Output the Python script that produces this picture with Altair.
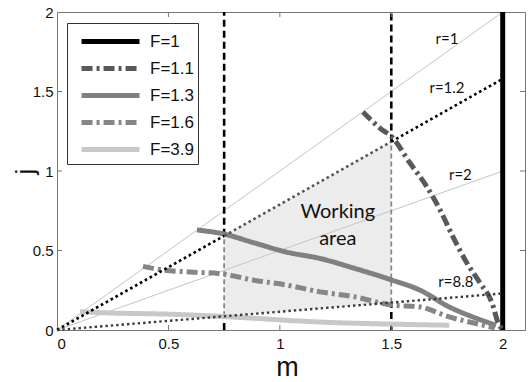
import altair as alt
import pandas as pd

# ---- data ----
series_names = ["F=1", "F=1.1", "F=1.3", "F=1.6", "F=3.9"]
series_colors = ["#000000", "#595959", "#808080", "#868686", "#c8c8c8"]
series_dash = [[1, 0], [11, 4, 3, 4], [1, 0], [11, 4, 3, 4], [1, 0]]

f1_m = [2.0, 2.0]
f1_j = [0.0, 2.0]
f11_m = [1.373, 1.449, 1.503, 1.584, 1.66, 1.719, 1.777, 1.84, 1.898, 1.952, 1.98, 2.0]
f11_j = [1.371, 1.27, 1.214, 1.05, 0.90, 0.755, 0.585, 0.42, 0.296, 0.17, 0.044, 0.0]
f13_m = [0.628, 0.745, 0.88, 1.03, 1.18, 1.33, 1.503, 1.63, 1.76, 1.87, 1.97]
f13_j = [0.629, 0.605, 0.55, 0.49, 0.45, 0.39, 0.314, 0.25, 0.145, 0.08, 0.03]
f16_m = [0.386, 0.476, 0.597, 0.745, 0.88, 1.03, 1.18, 1.33, 1.503, 1.63, 1.76, 1.87, 1.965]
f16_j = [0.40, 0.377, 0.365, 0.352, 0.314, 0.283, 0.24, 0.21, 0.157, 0.145, 0.082, 0.044, 0.013]
f39_m = [0.103, 0.24, 0.49, 0.745, 0.88, 1.18, 1.50, 1.76]
f39_j = [0.115, 0.107, 0.10, 0.085, 0.074, 0.05, 0.037, 0.03]

# r-lines: from origin to end point at m=2
r_names = ["r=1", "r=1.2", "r=2", "r=8.8"]
r_end_j = [2.0, 1.58, 1.0, 0.23]
r_label_m = [1.75, 1.75, 1.81, 1.79]
r_label_j = [1.83, 1.52, 0.975, 0.30]

# working area bounds
m_low, m_high = 0.75, 1.5
work_label_m = [1.26, 1.26]
work_label_j = [0.74, 0.575]
work_label_txt = ["Working", "area"]

x_ticks = [0, 0.5, 1, 1.5, 2]
y_ticks = [0, 0.5, 1, 1.5, 2]
inner_ticks = [0.5, 1, 1.5]

W, H = 468, 318
XS = alt.Scale(domain=[0, 2.1], nice=False, zero=False)
YS = alt.Scale(domain=[0, 2], nice=False, zero=False)

XA = alt.Axis(values=x_ticks, format="~g", title="m", grid=False, ticks=False, domain=False,
              labelFontSize=15, labelFont="Liberation Sans", labelColor="#111", labelPadding=6,
              titleFontSize=27, titleFont="Liberation Sans", titleFontWeight="normal",
              titleColor="#111", titlePadding=3, titleX=230)
YA = alt.Axis(values=y_ticks, format="~g", title="j", grid=False, ticks=False, domain=False,
              labelFontSize=15, labelFont="Liberation Sans", labelColor="#111", labelPadding=4,
              titleFontSize=26, titleFont="Liberation Sans", titleFontWeight="normal",
              titleColor="#111", titleX=-19, titleY=159)

def X(f="m"):
    return alt.X(f"{f}:Q", scale=XS, axis=XA)

def Y(f="j"):
    return alt.Y(f"{f}:Q", scale=YS, axis=YA)

# ---- build tables ----
rows = []
for name, ms, js in zip(series_names, [f1_m, f11_m, f13_m, f16_m, f39_m],
                        [f1_j, f11_j, f13_j, f16_j, f39_j]):
    for i, (a, b) in enumerate(zip(ms, js)):
        rows.append({"F": name, "m": a, "j": b, "i": i})
curves = pd.DataFrame(rows)

def rj(name, m):
    k = r_names.index(name)
    return r_end_j[k] * m / 2.0

thin = pd.DataFrame([{"r": n, "m": m, "j": rj(n, m), "i": i}
                     for n in ["r=1", "r=2"] for i, m in enumerate([0.0, 2.0])])

def seg_df(segs):
    out = []
    for k, (n, a, b) in enumerate(segs):
        for i, m in enumerate([a, b]):
            out.append({"seg": f"{n}-{k}", "m": m, "j": rj(n, m), "i": i})
    return pd.DataFrame(out)

dots_black = seg_df([("r=1.2", 0.0, m_low), ("r=1.2", m_high, 2.0)])
dots_gray = seg_df([("r=1.2", m_low, m_high)])
dots_88 = seg_df([("r=8.8", 0.0, 2.0)])

area_df = pd.DataFrame({
    "m": [m_low, m_high],
    "lo": [rj("r=8.8", m_low), rj("r=8.8", m_high)],
    "hi": [rj("r=1.2", m_low), rj("r=1.2", m_high)],
})

v_out, v_in = [], []
for m in [m_low, m_high]:
    lo, hi = rj("r=8.8", m), rj("r=1.2", m)
    v_out.append({"m": m, "a": 0.0, "b": lo})
    v_in.append({"m": m, "a": lo, "b": hi})
    v_out.append({"m": m, "a": hi, "b": 2.0})
v_out = pd.DataFrame(v_out)
v_in = pd.DataFrame(v_in)

rlab = pd.DataFrame({"t": r_names, "m": r_label_m, "j": r_label_j})
wlab = pd.DataFrame({"t": work_label_txt, "m": work_label_m, "j": work_label_j})
tickdf = pd.DataFrame({"v": inner_ticks})

base = alt.Chart(pd.DataFrame({"m": [0.0], "j": [0.0]})).mark_point(opacity=0).encode(x=X(), y=Y())

fill = alt.Chart(area_df).mark_area(color="#ececec", opacity=1).encode(
    x=X(), y=Y("lo"), y2="hi:Q")

thin_l = alt.Chart(thin).mark_line(color="#c4c4c4", strokeWidth=1).encode(
    x=X(), y=Y(), detail="r:N", order="i:Q")

vl_out = alt.Chart(v_out).mark_rule(strokeDash=[7, 4], color="#000000", strokeWidth=2.6).encode(
    x=X(), y=Y("a"), y2="b:Q")
vl_in = alt.Chart(v_in).mark_rule(strokeDash=[5, 3], color="#888888", strokeWidth=1.8).encode(
    x=X(), y=Y("a"), y2="b:Q")

leg = alt.Legend(title=None, orient="none", legendX=10, legendY=11,
                 symbolType="M-0.33,0H4.5", symbolSize=576, symbolStrokeWidth=5,
                 labelFontSize=17, labelFont="Liberation Sans", labelColor="#111",
                 labelOffset=50, rowPadding=2, padding=4,
                 strokeColor="#333", fillColor="white")

curves_l = alt.Chart(curves).mark_line(strokeWidth=5, strokeCap="butt", strokeJoin="round",
                                       interpolate="monotone").encode(
    x=X(), y=Y(), order="i:Q",
    color=alt.Color("F:N", scale=alt.Scale(domain=series_names, range=series_colors), legend=leg),
    strokeDash=alt.StrokeDash("F:N", scale=alt.Scale(domain=series_names, range=series_dash), legend=leg),
)

dots_b = alt.Chart(dots_black).mark_line(strokeWidth=2.6, strokeDash=[2.6, 3], color="#000000").encode(
    x=X(), y=Y(), detail="seg:N", order="i:Q")
dots_g = alt.Chart(dots_gray).mark_line(strokeWidth=2.6, strokeDash=[2.6, 3], color="#555555").encode(
    x=X(), y=Y(), detail="seg:N", order="i:Q")
dots_r = alt.Chart(dots_88).mark_line(strokeWidth=2.4, strokeDash=[2.4, 3], color="#3a3a3a").encode(
    x=X(), y=Y(), detail="seg:N", order="i:Q")

rtext = alt.Chart(rlab).mark_text(font="Lato", fontSize=15, color="#111").encode(
    x=X(), y=Y(), text="t:N")
wtext = alt.Chart(wlab).mark_text(font="Lato", fontSize=20, color="#111").encode(
    x=X(), y=Y(), text="t:N")

tk = alt.Chart(tickdf)
tcol = "#777777"
t_bottom = tk.mark_rule(color=tcol).encode(x=X("v"), y=alt.value(H), y2=alt.value(H - 5))
t_top = tk.mark_rule(color=tcol).encode(x=X("v"), y=alt.value(0), y2=alt.value(5))
t_left = tk.mark_rule(color=tcol).encode(y=Y("v"), x=alt.value(0), x2=alt.value(5))
t_right = tk.mark_rule(color=tcol).encode(y=Y("v"), x=alt.value(W), x2=alt.value(W - 5))

chart = alt.layer(
    base, fill, thin_l, vl_in, vl_out, curves_l, dots_b, dots_g, dots_r, rtext, wtext,
    t_bottom, t_top, t_left, t_right
).properties(
    width=W, height=H,
    autosize=alt.AutoSizeParams(type="none"),
    padding={"left": 57, "top": 12, "right": 4, "bottom": 52},
    background="white",
).configure_view(stroke="#777777", strokeWidth=1)

chart.save("out.html", embed_options={"renderer": "svg", "actions": False})
